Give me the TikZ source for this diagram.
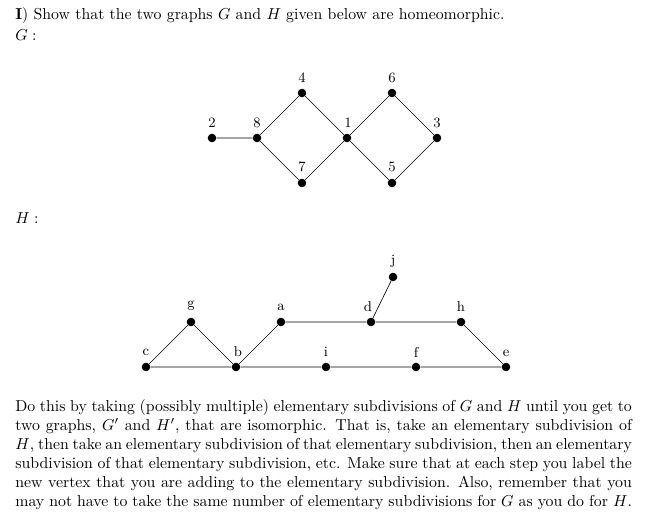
\documentclass[tikz,border=0pt]{standalone}
\begin{document}
\begin{tikzpicture}[x=0.6317pt,y=-0.6317pt,
  vtx/.style={circle,fill=black,inner sep=0pt,minimum size=5.4pt},
  lbl/.style={font=\small,inner sep=1pt},
  txt/.style={anchor=north west,inner sep=0pt,align=left}]
\useasboundingbox (0,0) rectangle (652,513);
\node[txt] (t1) at (15,7) {\textbf{I}) Show that the two graphs $G$ and $H$ given below are homeomorphic.};
\node[txt] (tg) at (15,29) {$G:$};
\node[txt] (th) at (15,212) {$H:$};
% G
\node[vtx] (g2) at (212,138) {};
\node[vtx] (g8) at (257,138) {};
\node[vtx] (g4) at (302,93) {};
\node[vtx] (g7) at (302,183) {};
\node[vtx] (g1) at (347,138) {};
\node[vtx] (g6) at (392,93) {};
\node[vtx] (g5) at (392,183) {};
\node[vtx] (g3) at (437,138) {};
\draw (g2)--(g8) (g8)--(g4) (g8)--(g7) (g4)--(g1) (g7)--(g1) (g1)--(g6) (g1)--(g5) (g6)--(g3) (g5)--(g3);
\node[lbl] (l2) at (212,123) {2};
\node[lbl] (l8) at (257,123) {8};
\node[lbl] (l4) at (302,78) {4};
\node[lbl] (l7) at (302,167) {7};
\node[lbl] (l1) at (348,123) {1};
\node[lbl] (l6) at (392,78) {6};
\node[lbl] (l5) at (392,167) {5};
\node[lbl] (l3) at (437,123) {3};
% H
\node[vtx] (c) at (146,367) {};
\node[vtx] (g) at (191,322) {};
\node[vtx] (b) at (236,367) {};
\node[vtx] (a) at (281,322) {};
\node[vtx] (d) at (371,322) {};
\node[vtx] (j) at (393,277) {};
\node[vtx] (h) at (461,322) {};
\node[vtx] (e) at (506,367) {};
\node[vtx] (i) at (326,367) {};
\node[vtx] (f) at (416,367) {};
\draw (c)--(g) (g)--(b) (c)--(b) (b)--(i) (i)--(f) (f)--(e) (b)--(a) (a)--(d) (d)--(h) (h)--(e) (d)--(j);
\node[lbl] (lc) at (146,352) {c};
\node[lbl] (lg) at (191,306) {g};
\node[lbl] (lb) at (238,352) {b};
\node[lbl] (la) at (281,307) {a};
\node[lbl] (ld) at (368,307) {d};
\node[lbl] (lj) at (393,261) {j};
\node[lbl] (lh) at (461,307) {h};
\node[lbl] (le) at (506,353) {e};
\node[lbl] (li) at (326,352) {i};
\node[lbl] (lf) at (416,352) {f};
\node[txt,text width=389.5pt,align=justify] (para) at (15,399) {Do this by taking (possibly multiple) elementary subdivisions of $G$ and $H$ until you get to two graphs, $G'$ and $H'$, that are isomorphic. That is, take an elementary subdivision of\linebreak $H$, then take an elementary subdivision of that elementary subdivision, then an elementary subdivision of that elementary subdivision, etc. Make sure that at each step you label the new vertex that you are adding to the elementary subdivision. Also, remember that you may not have to take the same number of elementary subdivisions for $G$ as you do for $H$.};
\end{tikzpicture}
\end{document}
